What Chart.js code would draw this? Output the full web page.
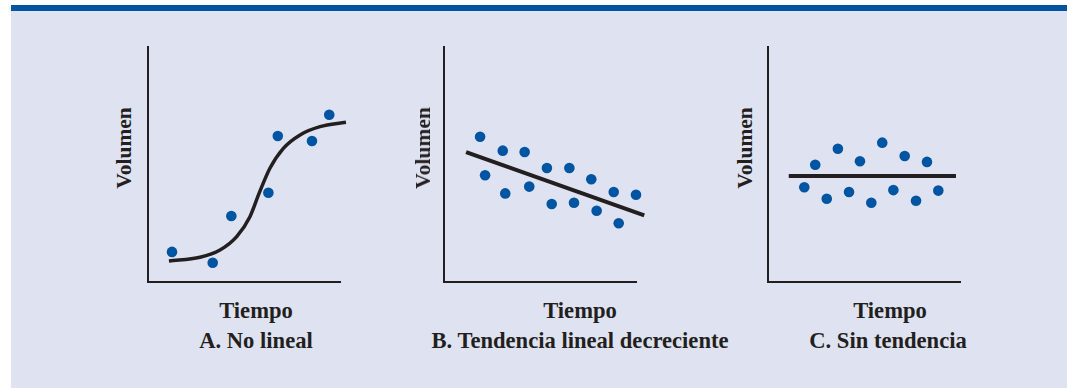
<!DOCTYPE html>
<html>
<head>
<meta charset="utf-8">
<script src="https://cdn.jsdelivr.net/npm/chart.js@4.4.1/dist/chart.umd.min.js"></script>
<style>
  html, body { margin: 0; padding: 0; background: #fff; }
  #figura { position: relative; width: 1067px; height: 388px; overflow: hidden; }
  #franja { position: absolute; left: 11px; top: 5px; width: 1056px; height: 6px; background: #0054a0; }
  #fondo { position: absolute; left: 11px; top: 11px; width: 1056px; height: 377px; background: #dfe3f1; }
  canvas { position: absolute; top: 37px; }
  .txt { position: absolute; font: bold 22.6px/22px "Liberation Serif", "Times New Roman", serif; color: #231f20; white-space: nowrap; }
  .x { width: 400px; text-align: center; }
  .y { font-size: 21.5px; transform: translate(-50%, -50%) rotate(-90deg); }
</style>
</head>
<body>
<div id="figura">
  <div id="franja"></div>
  <div id="fondo"></div>

  <canvas id="panelA" width="216" height="253" style="left:138px"></canvas>
  <canvas id="panelB" width="216" height="253" style="left:434px"></canvas>
  <canvas id="panelC" width="216" height="253" style="left:758px"></canvas>

  <div class="txt y" style="left:123.5px; top:148px">Volumen</div>
  <div class="txt y" style="left:423px; top:148px">Volumen</div>
  <div class="txt y" style="left:745px; top:148px">Volumen</div>

  <div class="txt x" style="left:56px; top:299.5px">Tiempo</div>
  <div class="txt x" style="left:380px; top:299.5px">Tiempo</div>
  <div class="txt x" style="left:690px; top:299.5px">Tiempo</div>

  <div class="txt x" style="left:56px; top:330px">A. No lineal</div>
  <div class="txt x" style="left:380px; top:330px">B. Tendencia lineal decreciente</div>
  <div class="txt x" style="left:688px; top:330px">C. Sin tendencia</div>
</div>

<script>
const AZUL = '#0055a2';
const NEGRO = '#231f20';

// A. No lineal
const aPuntosX = [12.5, 33.7, 43.4, 62.7, 67.6, 85.4, 94.4];
const aPuntosY = [12.8, 8.2, 28.1, 38.0, 62.1, 60.0, 71.2];
const aCurvaX = [10.9, 27.1, 37.5, 46.2, 53.1, 58.0, 63.5, 70.5, 79.2, 89.6, 103.1];
const aCurvaY = [8.9, 10.5, 13.6, 19.3, 27.8, 38.0, 48.4, 56.9, 62.6, 66.1, 68.0];

// B. Tendencia lineal decreciente
const bPuntosX = [18.8, 21.4, 30.6, 31.9, 42.0, 44.4, 53.6, 56.1, 65.3, 67.7, 76.7, 79.5, 88.4, 91.0, 100.0];
const bPuntosY = [61.8, 45.4, 55.9, 37.7, 55.3, 40.6, 48.5, 33.2, 48.5, 33.7, 43.7, 30.3, 38.3, 25.0, 37.1];
const bRectaX = [11.5, 104.3];
const bRectaY = [55.3, 28.4];

// C. Sin tendencia
const cPuntosX = [18.9, 24.6, 30.6, 36.4, 42.2, 47.9, 53.8, 59.5, 65.3, 71.2, 77.1, 82.8, 88.7];
const cPuntosY = [40.3, 49.9, 35.4, 56.7, 38.3, 51.4, 33.7, 59.3, 39.1, 53.6, 34.6, 51.1, 38.9];
const cRectaX = [10.8, 97.9];
const cRectaY = [45.1, 45.1];

function pares(xs, ys) {
    return xs.map((x, i) => ({ x: x, y: ys[i] }));
}

function ejeSinMarcas() {
    return {
        type: 'linear',
        min: 0,
        max: 100,
        display: true,
        ticks: { display: false },
        grid: { display: false, drawTicks: false },
        border: { display: true, color: NEGRO, width: 2 }
    };
}

function crearPanel(id, puntosX, puntosY, lineaX, lineaY, curva) {
    const ctx = document.getElementById(id);
    if (!ctx) return null;

    return new Chart(ctx, {
        type: 'scatter',
        data: {
            datasets: [{
                data: pares(puntosX, puntosY),
                backgroundColor: AZUL,
                borderWidth: 0,
                pointRadius: 5.3,
                clip: false
            }, {
                type: 'line',
                data: pares(lineaX, lineaY),
                borderColor: NEGRO,
                borderWidth: curva ? 3.5 : 4,
                pointRadius: 0,
                fill: false,
                cubicInterpolationMode: curva ? 'monotone' : 'default',
                clip: false
            }]
        },
        options: {
            responsive: false,
            animation: false,
            events: [],
            layout: {
                padding: { left: 10, top: 10, right: 14, bottom: 8 }
            },
            plugins: {
                legend: { display: false },
                tooltip: { enabled: false }
            },
            scales: {
                x: ejeSinMarcas(),
                y: ejeSinMarcas()
            }
        }
    });
}

crearPanel('panelA', aPuntosX, aPuntosY, aCurvaX, aCurvaY, true);
crearPanel('panelB', bPuntosX, bPuntosY, bRectaX, bRectaY, false);
crearPanel('panelC', cPuntosX, cPuntosY, cRectaX, cRectaY, false);
</script>
</body>
</html>
